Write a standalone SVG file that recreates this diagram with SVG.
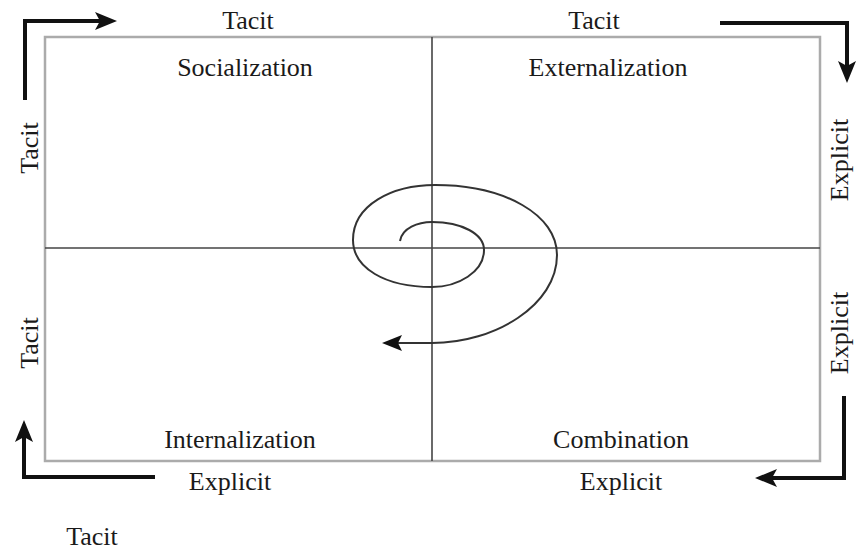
<svg xmlns="http://www.w3.org/2000/svg" width="857" height="550" viewBox="0 0 857 550">
<style>
text{font-family:"Liberation Serif","Times New Roman",serif;font-size:26px;fill:#1a1a1a;}
.mid{text-anchor:middle;}
.frame{fill:none;stroke:#ababab;stroke-width:2.5;}
.div{fill:none;stroke:#444;stroke-width:1.6;}
.big{fill:none;stroke:#111;stroke-width:4;stroke-linejoin:miter;marker-end:url(#bigArrow);}
.spiral{fill:none;stroke:#333;stroke-width:2;marker-end:url(#smallArrow);}
</style>
<defs>
<marker id="bigArrow" markerUnits="userSpaceOnUse" markerWidth="22" markerHeight="20" viewBox="0 0 22 20" refX="5" refY="10" orient="auto">
<path d="M0,1 L22,10 L0,19 L5,10 Z" fill="#111"/>
</marker>
<marker id="smallArrow" markerUnits="userSpaceOnUse" markerWidth="20" markerHeight="16" viewBox="0 0 20 16" refX="4" refY="8" orient="auto">
<path d="M0,0 L20,8 L0,16 L4,8 Z" fill="#111"/>
</marker>
</defs>
<rect width="857" height="550" fill="#fff"/>
<g id="frame">
<rect class="frame" x="45" y="37" width="775" height="424"/>
<line class="div" x1="432" y1="37" x2="432" y2="461"/>
<line class="div" x1="45" y1="248" x2="820" y2="248"/>
</g>
<g id="socialization"><text class="mid" x="245" y="76">Socialization</text></g>
<g id="externalization"><text class="mid" x="608" y="76">Externalization</text></g>
<g id="internalization"><text class="mid" x="240" y="448">Internalization</text></g>
<g id="combination"><text class="mid" x="621" y="448">Combination</text></g>
<g id="labels">
<text class="mid" x="248" y="29">Tacit</text>
<text class="mid" x="594" y="29">Tacit</text>
<text class="mid" x="230" y="490">Explicit</text>
<text class="mid" x="621" y="490">Explicit</text>
<text class="mid" x="92" y="545">Tacit</text>
<text class="mid" transform="translate(38,148) rotate(-90)">Tacit</text>
<text class="mid" transform="translate(38,343) rotate(-90)">Tacit</text>
<text class="mid" transform="translate(848,160) rotate(-90)">Explicit</text>
<text class="mid" transform="translate(848,333) rotate(-90)">Explicit</text>
</g>
<g id="connectors">
<path class="big" d="M25,100 L25,21 L100,21"/>
<path class="big" d="M720,23 L847,23 L847,66"/>
<path class="big" d="M155,477 L24,477 L24,437"/>
<path class="big" d="M844,396 L844,478 L772,478"/>
<path class="spiral" d="M400,241 C402,228 418,222 432,222 C462,222 484,234 484,250 C484,272 458,287 432,287 C385,287 353,268 353,240 C353,205 392,185 435,185 C505,185 557,215 557,255 C557,305 495,343 432,343 L398,343"/>
</g>
</svg>
